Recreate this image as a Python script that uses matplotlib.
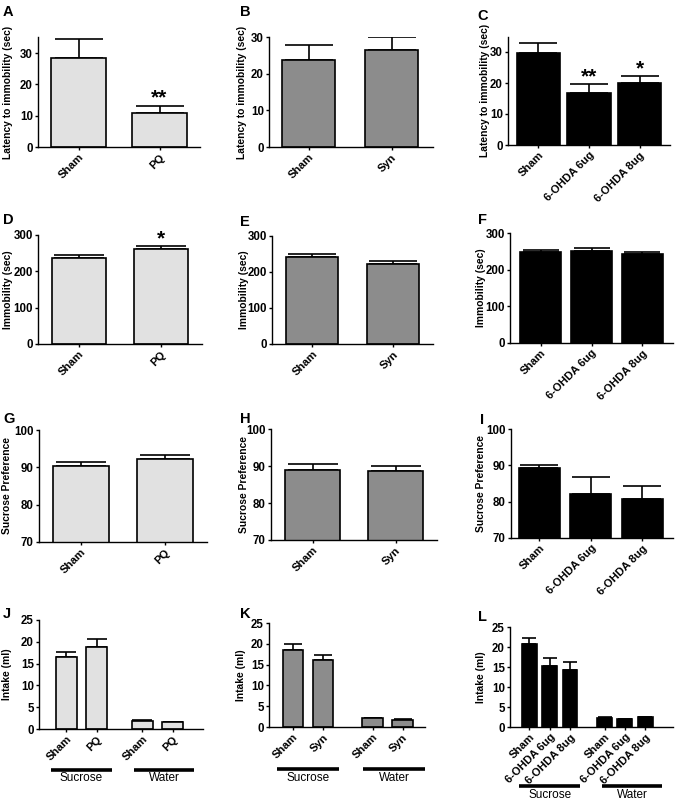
import matplotlib
matplotlib.use("Agg")
import matplotlib.pyplot as plt
from matplotlib.transforms import blended_transform_factory
import numpy as np

plt.rcParams['font.family'] = ['Liberation Sans', 'DejaVu Sans']

# ---------------- data ----------------
groups_pq = ["Sham", "PQ"]
groups_syn = ["Sham", "Syn"]
groups_ohda = ["Sham", "6-OHDA 6ug", "6-OHDA 8ug"]

latency_pq = [28.4, 10.9]
latency_pq_err = [6.0, 2.3]
latency_syn = [23.8, 26.4]
latency_syn_err = [4.1, 3.6]
latency_ohda = [29.6, 16.9, 19.9]
latency_ohda_err = [3.4, 2.7, 2.4]

immob_pq = [237, 261]
immob_pq_err = [8, 9]
immob_syn = [243, 222]
immob_syn_err = [8, 8]
immob_ohda = [247, 251, 242]
immob_ohda_err = [6, 9, 6]

sucpref_pq = [90.3, 92.2]
sucpref_pq_err = [1.0, 1.1]
sucpref_syn = [88.9, 88.6]
sucpref_syn_err = [1.6, 1.5]
sucpref_ohda = [89.2, 82.2, 80.8]
sucpref_ohda_err = [0.9, 4.6, 3.6]

intake_groups = ["Sucrose", "Water"]
intake_pq_sucrose = [16.5, 18.9]
intake_pq_sucrose_err = [1.2, 1.8]
intake_pq_water = [1.9, 1.5]
intake_pq_water_err = [0.2, 0.2]
intake_syn_sucrose = [18.6, 16.2]
intake_syn_sucrose_err = [1.3, 1.1]
intake_syn_water = [2.1, 1.8]
intake_syn_water_err = [0.15, 0.15]
intake_ohda_sucrose = [20.7, 15.2, 14.3]
intake_ohda_sucrose_err = [1.6, 2.1, 2.0]
intake_ohda_water = [2.3, 1.9, 2.5]
intake_ohda_water_err = [0.1, 0.1, 0.1]

stars_lat_pq = ["", "**"]
stars_lat_ohda = ["", "**", "*"]
stars_imm_pq = ["", "*"]

# ---------------- style ----------------
W, H = 680, 802
C_PQ = "#e1e1e1"
C_SYN = "#8c8c8c"
C_OHDA = "#000000"
XTICK_FS = 8
YTICK_FS = 8.3
LAB_FS = 7.4

fig = plt.figure(figsize=(W / 100, H / 100), dpi=100)


def make_axes(px):
    x0, x1, y0, y1 = px
    return fig.add_axes([x0 / W, 1 - y1 / H, (x1 - x0) / W, (y1 - y0) / H])


def panel(px, letter, letter_xy, ylab_x, ylim, yticks, pos, vals, errs,
          color, labels, width, xlim, ylabel, stars=None):
    ax = make_axes(px)
    pos = np.asarray(pos, dtype=float)
    bar_px = width * (px[1] - px[0]) / (xlim[1] - xlim[0])
    cap = 0.45 * bar_px * 72 / 100
    ax.bar(pos, vals, width=width, color=color, edgecolor="black",
           linewidth=1.2, zorder=2)
    ax.errorbar(pos, vals, yerr=[np.zeros(len(vals)), errs], fmt="none",
                ecolor="black", elinewidth=1.2, capsize=cap,
                capthick=1.2, zorder=1)
    ax.set_xlim(*xlim)
    ax.set_ylim(*ylim)
    ax.set_yticks(yticks)
    ax.set_xticks(pos)
    ax.set_xticklabels(labels, rotation=45, ha="right",
                       rotation_mode="anchor", fontsize=XTICK_FS,
                       fontweight="bold")
    for t in ax.get_yticklabels():
        t.set_fontsize(YTICK_FS)
        t.set_fontweight("bold")
    for s in ["top", "right"]:
        ax.spines[s].set_visible(False)
    for s in ["left", "bottom"]:
        ax.spines[s].set_linewidth(1.0)
    ax.tick_params(axis="both", direction="out", length=2.5, width=1.0,
                   pad=1.2)
    ax.set_ylabel(ylabel, fontsize=LAB_FS, fontweight="bold",
                  va="center", ha="center")
    ax.yaxis.set_label_coords(ylab_x / W, 0.5,
                              transform=blended_transform_factory(
                                  fig.transFigure, ax.transAxes))
    if stars is not None:
        for p, v, e, s in zip(pos, vals, errs, stars):
            if s:
                ax.annotate(s, (p, v + e), xytext=(0, -1.5),
                            textcoords="offset points", ha="center",
                            va="bottom", fontsize=15, fontweight="bold")
    fig.text(letter_xy[0] / W, 1 - letter_xy[1] / H, letter, fontsize=10.5,
             fontweight="bold", ha="left", va="top")
    return ax


def group_lines(ax, centers, halfw, shifts, names, line_y, text_y):
    tr = blended_transform_factory(ax.transData, fig.transFigure)
    for c, s, n in zip(centers, shifts, names):
        ax.plot([c - halfw + s, c + halfw + s], [1 - line_y / H] * 2,
                transform=tr, color="black", linewidth=2.6,
                solid_capstyle="butt", clip_on=False)
        ax.text(c + s, 1 - text_y / H, n, transform=tr, ha="center",
                va="center", fontsize=8.5)


# Row 1: latency
panel((38, 200, 37.4, 147), "A", (3, 5), 8, (0, 35), [0, 10, 20, 30],
      np.arange(len(groups_pq)), latency_pq, latency_pq_err, C_PQ, groups_pq,
      0.67, (-0.5, 1.5), "Latency to immobility (sec)", stars_lat_pq)
panel((269, 433, 37, 147), "B", (240, 5), 242, (0, 30), [0, 10, 20, 30],
      np.arange(len(groups_syn)), latency_syn, latency_syn_err, C_SYN,
      groups_syn, 0.64, (-0.48, 1.5), "Latency to immobility (sec)")
panel((508, 670, 36.5, 145), "C", (477, 9), 485, (0, 35), [0, 10, 20, 30],
      np.arange(len(groups_ohda)), latency_ohda, latency_ohda_err, C_OHDA,
      groups_ohda, 0.85, (-0.6, 2.6), "Latency to immobility (sec)",
      stars_lat_ohda)

# Row 2: immobility
panel((38, 202, 235, 344), "D", (3, 213), 8, (0, 300), [0, 100, 200, 300],
      np.arange(len(groups_pq)), immob_pq, immob_pq_err, C_PQ, groups_pq,
      0.67, (-0.5, 1.5), "Immobility (sec)", stars_imm_pq)
panel((272, 433, 236, 344), "E", (240, 215), 244, (0, 300), [0, 100, 200, 300],
      np.arange(len(groups_syn)), immob_syn, immob_syn_err, C_SYN,
      groups_syn, 0.65, (-0.5, 1.5), "Immobility (sec)")
panel((510, 673, 233, 343), "F", (478, 213), 481, (0, 300), [0, 100, 200, 300],
      np.arange(len(groups_ohda)), immob_ohda, immob_ohda_err, C_OHDA,
      groups_ohda, 0.8, (-0.6, 2.6), "Immobility (sec)")

# Row 3: sucrose preference
panel((39, 207, 430, 542), "G", (3, 412), 7.5, (70, 100), [70, 80, 90, 100],
      np.arange(len(groups_pq)), sucpref_pq, sucpref_pq_err, C_PQ, groups_pq,
      0.67, (-0.5, 1.5), "Sucrose Preference")
panel((271, 437, 429, 540), "H", (240, 412), 244, (70, 100), [70, 80, 90, 100],
      np.arange(len(groups_syn)), sucpref_syn, sucpref_syn_err, C_SYN,
      groups_syn, 0.66, (-0.5, 1.5), "Sucrose Preference")
panel((511, 673, 429, 538), "I", (480, 413), 481, (70, 100), [70, 80, 90, 100],
      np.arange(len(groups_ohda)), sucpref_ohda, sucpref_ohda_err, C_OHDA,
      groups_ohda, 0.8, (-0.55, 2.6), "Sucrose Preference")

# Row 4: intake
n = len(groups_pq)
posJ = np.concatenate([np.arange(n), np.arange(n) + n + 0.5])
axJ = panel((39, 203, 620, 729), "J", (3, 607), 7, (0, 25),
            [0, 5, 10, 15, 20, 25],
            posJ, intake_pq_sucrose + intake_pq_water,
            intake_pq_sucrose_err + intake_pq_water_err, C_PQ,
            groups_pq * 2, 0.7, (-0.9, 4.5), "Intake (ml)")
group_lines(axJ, [posJ[:n].mean(), posJ[n:].mean()], 1.0, [0, 0.22],
            intake_groups, 770, 778)

n = len(groups_syn)
posK = np.concatenate([np.arange(n), np.arange(n) + n + 0.65])
axK = panel((269, 425, 623, 727), "K", (240, 607), 240.5, (0, 25),
            [0, 5, 10, 15, 20, 25],
            posK, intake_syn_sucrose + intake_syn_water,
            intake_syn_sucrose_err + intake_syn_water_err, C_SYN,
            groups_syn * 2, 0.68, (-0.8, 4.4), "Intake (ml)")
group_lines(axK, [posK[:n].mean(), posK[n:].mean()], 1.03, [0, 0.22],
            intake_groups, 769, 778)

n = len(groups_ohda)
posL = np.concatenate([np.arange(n), np.arange(n) + n + 0.7])
axL = panel((510, 673, 627, 727), "L", (478, 610), 481, (0, 25),
            [0, 5, 10, 15, 20, 25],
            posL, intake_ohda_sucrose + intake_ohda_water,
            intake_ohda_sucrose_err + intake_ohda_water_err, C_OHDA,
            groups_ohda * 2, 0.73, (-0.96, 7.07), "Intake (ml)")
group_lines(axL, [posL[:n].mean(), posL[n:].mean()], 1.5, [0, 0.35],
            intake_groups, 786, 795)

fig.savefig("out.png", dpi=100)
